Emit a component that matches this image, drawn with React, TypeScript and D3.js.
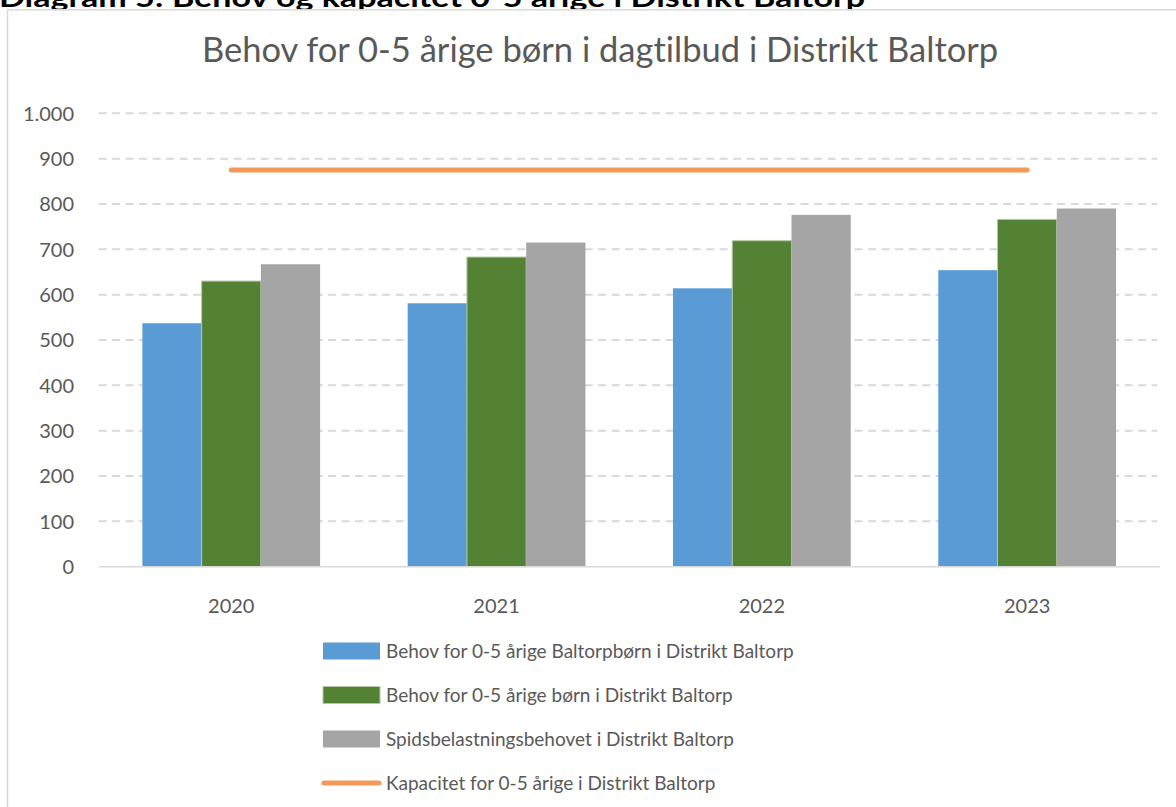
import React from "react";
import * as d3 from "d3";

const years = ["2020", "2021", "2022", "2023"];
const seriesNames = [
  "Behov for 0-5 årige Baltorpbørn i Distrikt Baltorp",
  "Behov for 0-5 årige børn i Distrikt Baltorp",
  "Spidsbelastningsbehovet i Distrikt Baltorp",
];
const baltorpBorn = [537, 581, 614, 654];
const alleBorn = [630, 683, 719, 766];
const spidsbelastning = [667, 715, 776, 790];
const kapacitetName = "Kapacitet for 0-5 årige i Distrikt Baltorp";
const kapacitet = [875, 875, 875, 875];
const yTicks = [0, 100, 200, 300, 400, 500, 600, 700, 800, 900, 1000];
const seriesColors = ["#5B9BD5", "#548235", "#A5A5A5"];
const lineColor = "#F4995A";

const FONT = "Lato, 'Open Sans', sans-serif";

export default function App() {
  const W = 1176;
  const H = 807;
  const x0 = d3.scaleBand<string>().domain(years).range([98.6, 1159.8]).padding(0);
  const groupW = x0.bandwidth() * 0.67;
  const x1 = d3.scaleBand<string>().domain(seriesNames).range([0, groupW]).padding(0);
  const y = d3.scaleLinear().domain([0, 1000]).range([566.7, 113.3]);
  const seriesValues = [baltorpBorn, alleBorn, spidsbelastning];
  const fmt = (v: number) => (v >= 1000 ? d3.format(",")(v).replace(",", ".") : String(v));

  const lineGen = d3
    .line<number>()
    .x((_, i) => (x0(years[i]) as number) + x0.bandwidth() / 2)
    .y((d) => y(d));

  const legendY = [651, 695, 739, 783];

  return (
    <svg
      width={W}
      height={H}
      style={{ position: "fixed", left: 0, top: 0, background: "#fff", fontVariantLigatures: "none" }}
      fontFamily={FONT}
    >
      <rect x={0} y={0} width={W} height={H} fill="#fff" />
      <text
        x={-1}
        y={7}
        fontSize={26}
        fontWeight="bold"
        fill="#000"
        textLength={866}
        lengthAdjust="spacingAndGlyphs"
      >
        Diagram 5: Behov og kapacitet 0-5 årige i Distrikt Baltorp
      </text>
      <rect x={7.5} y={9.8} width={1300} height={1000} fill="#fff" stroke="#D9D9D9" strokeWidth={1.5} />

      <text x={600} y={62} textAnchor="middle" fontSize={34.5} fill="#595959">
        Behov for 0-5 årige børn i dagtilbud i Distrikt Baltorp
      </text>

      {/* gridlines */}
      {yTicks
        .filter((t) => t > 0)
        .map((t) => (
          <line
            key={t}
            x1={98.6}
            x2={1157}
            y1={y(t)}
            y2={y(t)}
            stroke="#D9D9D9"
            strokeWidth={2}
            strokeDasharray="8,5.5"
          />
        ))}
      {yTicks.map((t) => (
        <text
          key={"l" + t}
          x={74}
          y={y(t)}
          dy="0.36em"
          textAnchor="end"
          fontSize={20}
          fill="#595959"
        >
          {fmt(t)}
        </text>
      ))}

      {/* bars */}
      {years.map((yr, i) => {
        const gx = (x0(yr) as number) + (x0.bandwidth() - groupW) / 2;
        return (
          <g key={yr}>
            {seriesNames.map((s, j) => {
              const v = seriesValues[j][i];
              return (
                <rect
                  key={s}
                  x={gx + (x1(s) as number)}
                  y={y(v)}
                  width={x1.bandwidth()}
                  height={y(0) - y(v)}
                  fill={seriesColors[j]}
                  stroke={j === 1 ? "#B5C8AA" : "none"}
                  strokeWidth={j === 1 ? 1 : 0}
                />
              );
            })}
          </g>
        );
      })}

      {/* axis line */}
      <line x1={98.6} x2={1159.8} y1={y(0)} y2={y(0)} stroke="#D9D9D9" strokeWidth={1.5} />
      {years.map((yr) => (
        <text
          key={"x" + yr}
          x={(x0(yr) as number) + x0.bandwidth() / 2}
          y={613}
          textAnchor="middle"
          fontSize={20}
          fill="#595959"
        >
          {yr}
        </text>
      ))}

      {/* capacity line */}
      <path
        d={lineGen(kapacitet) as string}
        fill="none"
        stroke={lineColor}
        strokeWidth={5}
        strokeLinecap="round"
      />

      {/* legend */}
      {seriesNames.map((s, j) => (
        <g key={"lg" + s}>
          <rect
            x={323}
            y={legendY[j] - 8.5}
            width={57}
            height={17}
            fill={seriesColors[j]}
            stroke={j === 1 ? "#B5C8AA" : "none"}
            strokeWidth={j === 1 ? 1 : 0}
          />
          <text x={386} y={legendY[j]} dy="0.35em" fontSize={19} fill="#595959">
            {s}
          </text>
        </g>
      ))}
      <line
        x1={324}
        x2={379}
        y1={legendY[3]}
        y2={legendY[3]}
        stroke={lineColor}
        strokeWidth={5}
        strokeLinecap="round"
      />
      <text x={386} y={legendY[3]} dy="0.35em" fontSize={19} fill="#595959">
        {kapacitetName}
      </text>
    </svg>
  );
}
